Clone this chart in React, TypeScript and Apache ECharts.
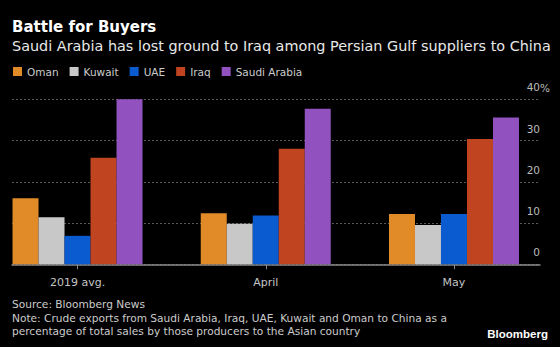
import React, { useEffect, useRef } from "react";
import * as echarts from "echarts";

const categories = ["2019 avg.", "April", "May"];
const seriesNames = ["Oman", "Kuwait", "UAE", "Iraq", "Saudi Arabia"];
const oman = [16.0, 12.4, 12.2];
const kuwait = [11.4, 9.8, 9.5];
const uae = [6.9, 11.8, 12.2];
const iraq = [25.8, 28.0, 30.4];
const saudi = [40.0, 37.7, 35.6];
const seriesColors = ["#e08b28", "#c8c8c8", "#0b5bd0", "#c0441f", "#9152bf"];
const yMin = 0;
const yMax = 40;
const yInterval = 10;

const titleText = "Battle for Buyers";
const subtitleText = "Saudi Arabia has lost ground to Iraq among Persian Gulf suppliers to China";
const footerLines = [
  "Source: Bloomberg News",
  "Note: Crude exports from Saudi Arabia, Iraq, UAE, Kuwait and Oman to China as a",
  "percentage of total sales by those producers to the Asian country",
];

const FONT = "'DejaVu Sans', Verdana, sans-serif";
const LOGO_FONT = "'Liberation Sans', Arial, sans-serif";
// the chart canvas starts OFF px left of the window so the bar grid can extend past the left edge
const OFF = 20;
const W = 560 + OFF;

export default function App() {
  const ref = useRef<HTMLDivElement>(null);
  useEffect(() => {
    if (!ref.current) return;
    const chart = echarts.init(ref.current, null, { renderer: "svg" });
    const values = [oman, kuwait, uae, iraq, saudi];
    const gridTop = 99.3;
    const gridBottom = 347 - 264.3;
    const option: any = {
      animation: false,
      backgroundColor: "#000",
      textStyle: { fontFamily: FONT },
      grid: [
        { left: 12 + OFF, right: 20, top: gridTop, bottom: gridBottom },
        { left: OFF - 16.6, right: 11.9, top: gridTop, bottom: gridBottom },
      ],
      legend: {
        left: 13 + OFF,
        top: 66,
        padding: 0,
        itemWidth: 9,
        itemHeight: 9,
        itemGap: 11,
        icon: "rect",
        data: seriesNames,
        textStyle: { color: "#cccccc", fontSize: 10.5, fontFamily: FONT },
      },
      xAxis: [
        {
          gridIndex: 0,
          type: "value",
          min: 0,
          max: 1,
          axisLine: { show: true, lineStyle: { color: "#8a8a8a", width: 1.5 } },
          axisTick: { show: false },
          axisLabel: { show: false },
          splitLine: { show: false },
        },
        {
          gridIndex: 1,
          type: "category",
          data: categories,
          axisLine: { show: false },
          axisTick: { show: true, alignWithLabel: true, length: 5, lineStyle: { color: "#8a8a8a" } },
          axisLabel: { color: "#c4c4c4", fontSize: 11, margin: 12.5, fontFamily: FONT },
          splitLine: { show: false },
        },
      ],
      yAxis: [
        {
          gridIndex: 0,
          type: "value",
          position: "right",
          min: yMin,
          max: yMax,
          interval: yInterval,
          axisLine: { show: false },
          axisTick: { show: false },
          axisLabel: {
            inside: true,
            margin: 0,
            color: "#bbbbbb",
            fontSize: 10.5,
            fontFamily: FONT,
            align: "right",
            verticalAlign: "bottom",
            lineHeight: 24,
          },
          splitLine: { show: true, lineStyle: { color: "#5a5a5a", type: [2, 2], width: 1 } },
        },
        {
          gridIndex: 1,
          type: "value",
          min: yMin,
          max: yMax,
          interval: yInterval,
          show: false,
        },
      ],
      series: seriesNames.map((name, i) => ({
        name,
        type: "bar",
        xAxisIndex: 1,
        yAxisIndex: 1,
        barWidth: 26,
        barGap: "0%",
        itemStyle: { color: seriesColors[i] },
        data: values[i],
      })),
      graphic: [
        {
          type: "text",
          x: 12 + OFF,
          y: 27.4,
          style: {
            text: titleText,
            fill: "#ffffff",
            fontSize: 15,
            fontWeight: "bold",
            fontFamily: FONT,
            verticalAlign: "middle",
          },
        },
        {
          type: "text",
          x: 12 + OFF,
          y: 45.5,
          style: {
            text: subtitleText,
            fill: "#e8e8e8",
            fontSize: 14.4,
            fontFamily: FONT,
            verticalAlign: "middle",
          },
        },
        {
          type: "text",
          x: 540 + OFF,
          y: 87.5,
          style: { text: "%", fill: "#bbbbbb", fontSize: 10.5, fontFamily: FONT, verticalAlign: "middle" },
        },
        ...footerLines.map((t, i) => ({
          type: "text",
          x: 12 + OFF,
          y: 304.3 + i * 13.2,
          style: { text: t, fill: "#cccccc", fontSize: 10.6, fontFamily: FONT, verticalAlign: "middle" },
        })),
        {
          type: "text",
          x: 548 + OFF,
          y: 334,
          style: {
            text: "Bloomberg",
            fill: "#ffffff",
            fontSize: 11.5,
            fontWeight: "bold",
            fontFamily: LOGO_FONT,
            align: "right",
            verticalAlign: "middle",
          },
        },
      ],
    };
    chart.setOption(option);
    return () => chart.dispose();
  }, []);
  return (
    <div
      ref={ref}
      style={{ position: "fixed", left: -OFF, top: 0, width: W, height: 347, background: "#000" }}
    />
  );
}
